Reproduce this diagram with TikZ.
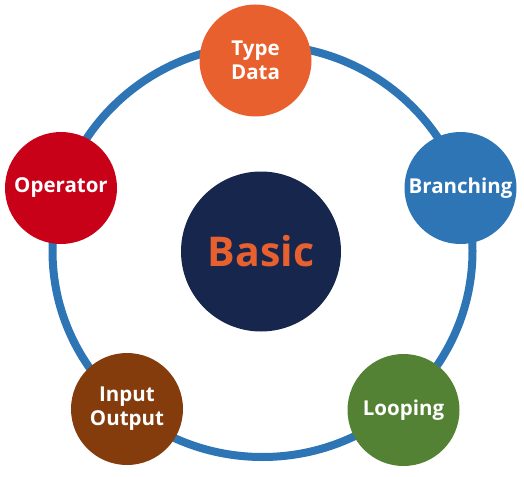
\documentclass[tikz,border=0pt]{standalone}
\usepackage{fontspec}
\setmainfont{Open Sans}
\definecolor{ringblue}{HTML}{2E75B6}
\definecolor{typeorange}{HTML}{E9602F}
\definecolor{loopgreen}{HTML}{548235}
\definecolor{iobrown}{HTML}{843C0C}
\definecolor{opred}{HTML}{C80018}
\definecolor{basicnavy}{HTML}{16264D}
\begin{document}
\begin{tikzpicture}[x=1pt,y=-1pt,
nd/.style = {circle,inner sep=0pt,minimum size=112pt,text=white,align=center,
  font=\bfseries\fontsize{20.5}{24}\selectfont},
core/.style = {circle,inner sep=0pt,minimum size=160pt,fill=basicnavy,text=typeorange,
  font=\bfseries\fontsize{41}{44}\selectfont},
ring/.style = {draw,line width=8pt,ringblue}
]
  \useasboundingbox (0,0) rectangle (524,476);
  \coordinate (c) at (262.5,251);
  \draw[ring] (c) ellipse [x radius=210pt, y radius=206pt];

  \node[core] (basic) at (261,251.5) {Basic};

  \node[nd,fill=typeorange] (type) at (255.5,60.5) {Type\\Data};
  \node[nd,fill=ringblue] (branch) at (460.5,188) {Branching};
  \node[nd,fill=loopgreen] (loop) at (403.5,410) {Looping};
  \node[nd,fill=iobrown] (io) at (127,409) {Input\\Output};
  \node[nd,fill=opred] (op) at (61,188) {Operator};

\end{tikzpicture}
\end{document}
